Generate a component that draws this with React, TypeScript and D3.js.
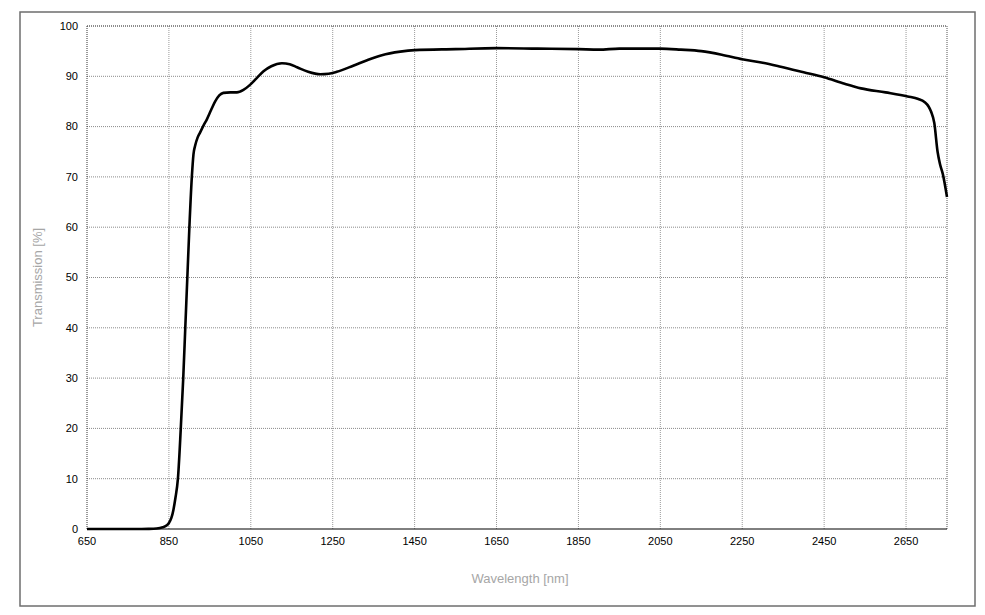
import React from "react";
import * as d3 from "d3";

const wavelengths = [650, 700, 750, 780, 800, 820, 835, 845, 850, 856, 861, 866, 872, 879, 885, 890, 895, 900, 906, 910, 914, 920, 926, 935, 943, 953, 963, 973, 983, 1000, 1016, 1032, 1048, 1065, 1081, 1100, 1126, 1145, 1163, 1190, 1220, 1240, 1260, 1300, 1334, 1370, 1415, 1450, 1550, 1650, 1750, 1850, 1900, 1950, 2050, 2100, 2150, 2200, 2250, 2300, 2344, 2400, 2450, 2500, 2540, 2600, 2654, 2680, 2695, 2705, 2711, 2719, 2727, 2733, 2740, 2750];
const transmission = [0, 0, 0, 0.01, 0.03, 0.1, 0.35, 0.75, 1.2, 2.2, 3.8, 6.2, 10, 20, 30, 40, 50, 60, 70, 74.5, 76.2, 77.8, 78.8, 80.3, 81.5, 83.3, 85, 86.2, 86.7, 86.8, 86.8, 87.3, 88.3, 89.7, 91, 92, 92.6, 92.4, 91.8, 90.9, 90.4, 90.5, 90.9, 92.1, 93.2, 94.2, 94.9, 95.2, 95.4, 95.6, 95.5, 95.4, 95.3, 95.5, 95.5, 95.3, 95.0, 94.3, 93.4, 92.7, 91.9, 90.8, 89.8, 88.5, 87.6, 86.8, 86, 85.5, 84.9, 84, 83, 80.7, 75, 72.5, 70.5, 66];
const xTicks = [650, 850, 1050, 1250, 1450, 1650, 1850, 2050, 2250, 2450, 2650];
const yTicks = [0, 10, 20, 30, 40, 50, 60, 70, 80, 90, 100];

export default function App() {
  const W = 985, H = 615;
  const left = 87, right = 947, top = 26, bottom = 529;
  const x = d3.scaleLinear().domain([650, 2750]).range([left, right]);
  const y = d3.scaleLinear().domain([0, 100]).range([bottom, top]);
  const pts: [number, number][] = wavelengths.map((w, i) => [w, transmission[i]]);
  const line = d3.line<[number, number]>().x(d => x(d[0])).y(d => y(d[1])).curve(d3.curveMonotoneX);
  const font = "'Liberation Sans', Arial, sans-serif";
  return (
    <svg width={W} height={H} style={{ position: "absolute", left: 0, top: 0, background: "#fff" }}>
      <rect x={20} y={12} width={955} height={594} fill="#fff" stroke="#6e6e6e" strokeWidth={1.5} />
      {xTicks.slice(1).map(t => (
        <line key={"gx" + t} x1={x(t)} x2={x(t)} y1={top} y2={bottom} stroke="#9a9a9a" strokeWidth={1} strokeDasharray="1,1" />
      ))}
      {yTicks.slice(1).map(t => (
        <line key={"gy" + t} x1={left} x2={right} y1={y(t)} y2={y(t)} stroke="#8a8a8a" strokeWidth={1} strokeDasharray="1,1" />
      ))}
      <line x1={left} x2={left} y1={top} y2={bottom} stroke="#333" strokeWidth={1} strokeDasharray="1,1" />
      <line x1={right} x2={right} y1={top} y2={bottom} stroke="#555" strokeWidth={1} strokeDasharray="1,1" />
      <line x1={left} x2={right} y1={top} y2={top} stroke="#555" strokeWidth={1} strokeDasharray="1,1" />
      <line x1={left} x2={right} y1={bottom} y2={bottom} stroke="#000" strokeWidth={1} />
      {yTicks.map(t => (
        <text key={"ty" + t} x={78} y={y(t)} dy="0.35em" textAnchor="end" fontFamily={font} fontSize={11} fill="#000">{t}</text>
      ))}
      {xTicks.map(t => (
        <text key={"tx" + t} x={x(t)} y={545} textAnchor="middle" fontFamily={font} fontSize={11} fill="#000">{t}</text>
      ))}
      <path d={line(pts) || ""} fill="none" stroke="#000" strokeWidth={2.6} strokeLinejoin="round" />
      <text x={520} y={583} textAnchor="middle" fontFamily={font} fontSize={13} fill="#a6a6a6">Wavelength [nm]</text>
      <text transform={`translate(42, ${(top + bottom) / 2}) rotate(-90)`} textAnchor="middle" fontFamily={font} fontSize={13} fill="#a6a6a6">Transmission [%]</text>
    </svg>
  );
}
